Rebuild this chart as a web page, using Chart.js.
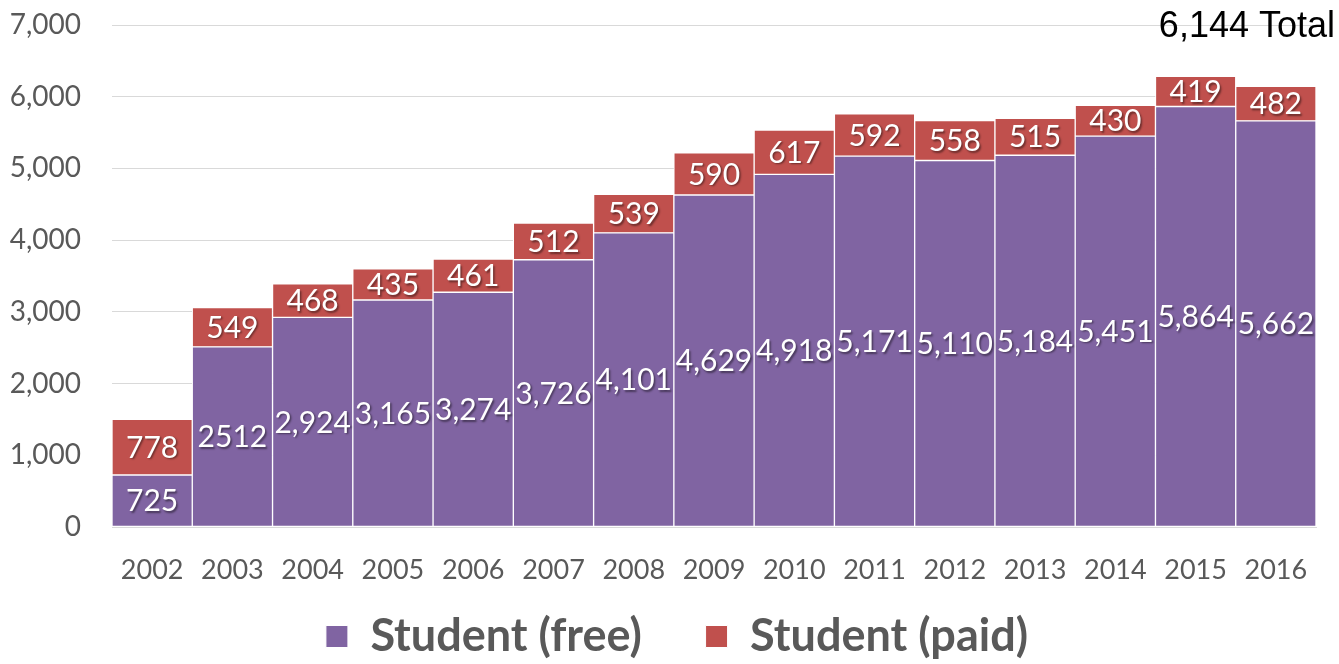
<!DOCTYPE html>
<html>
<head>
<meta charset="utf-8">
<script src="https://cdn.jsdelivr.net/npm/chart.js@4"></script>
<style>
html,body{margin:0;padding:0;background:#fff;}
#wrap{width:1339px;height:664px;}
</style>
</head>
<body>
<div id="wrap"><canvas id="c" width="1339" height="664"></canvas></div>
<script>
const years = ['2002','2003','2004','2005','2006','2007','2008','2009','2010','2011','2012','2013','2014','2015','2016'];
const freeValues = [725,2512,2924,3165,3274,3726,4101,4629,4918,5171,5110,5184,5451,5864,5662];
const paidValues = [778,549,468,435,461,512,539,590,617,592,558,515,430,419,482];
const freeLabels = ['725','2512','2,924','3,165','3,274','3,726','4,101','4,629','4,918','5,171','5,110','5,184','5,451','5,864','5,662'];
const paidLabels = ['778','549','468','435','461','512','539','590','617','592','558','515','430','419','482'];
const seriesNames = ['Student (free)', 'Student (paid)'];
const totalNote = '6,144 Total';

const labelPlugin = {
  id: 'barLabels',
  afterLayout(chart) {
    // nudge the legend row to the right, as in the original
    if (chart.legend) { chart.legend.left += 15; chart.legend.right += 15; }
  },
  afterDatasetsDraw(chart) {
    const ctx = chart.ctx;
    ctx.save();
    ctx.font = '30px Lato';
    ctx.fillStyle = '#ffffff';
    ctx.textAlign = 'center';
    ctx.textBaseline = 'middle';
    ctx.shadowColor = 'rgba(0,0,0,0.45)';
    ctx.shadowOffsetX = 1.5;
    ctx.shadowOffsetY = 1.5;
    ctx.shadowBlur = 2;
    const sets = [freeLabels, paidLabels];
    chart.data.datasets.forEach((ds, di) => {
      const meta = chart.getDatasetMeta(di);
      meta.data.forEach((bar, i) => {
        const p = bar.getProps(['x','y','base'], true);
        const cy = (p.y + p.base) / 2;
        ctx.fillText(sets[di][i], p.x, cy + 1);
      });
    });
    ctx.restore();
    ctx.save();
    ctx.font = '36px "Liberation Sans"';
    ctx.fillStyle = '#000000';
    ctx.textAlign = 'right';
    ctx.textBaseline = 'alphabetic';
    ctx.fillText(totalNote, 1335, 37);
    ctx.restore();
  }
};

new Chart(document.getElementById('c'), {
  type: 'bar',
  data: {
    labels: years,
    datasets: [
      { label: seriesNames[0], data: freeValues, backgroundColor: '#8064a2', borderColor: '#ffffff', borderWidth: 1, borderSkipped: false },
      { label: seriesNames[1], data: paidValues, backgroundColor: '#c0504d', borderColor: '#ffffff', borderWidth: 1, borderSkipped: false }
    ]
  },
  options: {
    responsive: false,
    animation: false,
    layout: { padding: { left: 8, right: 23, top: 25, bottom: -5 } },
    datasets: { bar: { categoryPercentage: 1.0, barPercentage: 1.0 } },
    scales: {
      x: {
        stacked: true,
        afterFit: (s) => { s.height = 67; },
        grid: { display: false, drawTicks: false },
        border: { display: true, color: '#d9d9d9', width: 1 },
        ticks: { color: '#595959', font: { family: 'Lato', size: 27 }, padding: 27, maxRotation: 0, autoSkip: false }
      },
      y: {
        stacked: true,
        min: 0, max: 7000,
        afterFit: (s) => { s.width = 104; },
        grid: { color: '#d9d9d9', drawTicks: true, tickLength: 31, tickColor: 'rgba(0,0,0,0)', lineWidth: 1 },
        border: { display: false },
        ticks: {
          stepSize: 1000, color: '#595959', font: { family: 'Lato', size: 28 }, padding: 0,
          callback: (v) => v.toLocaleString('en-US')
        }
      }
    },
    plugins: {
      legend: {
        position: 'bottom',
        labels: {
          color: '#595959',
          font: { family: 'Lato', size: 45, weight: 'bold' },
          boxWidth: 22, boxHeight: 22, padding: 20,
          useBorderRadius: false,
          generateLabels: (chart) => {
            const items = Chart.defaults.plugins.legend.labels.generateLabels(chart);
            items[0].text = items[0].text + '\u00a0\u00a0\u00a0\u00a0';
            return items;
          }
        }
      },
      tooltip: { enabled: false }
    }
  },
  plugins: [labelPlugin]
});
</script>
</body>
</html>
